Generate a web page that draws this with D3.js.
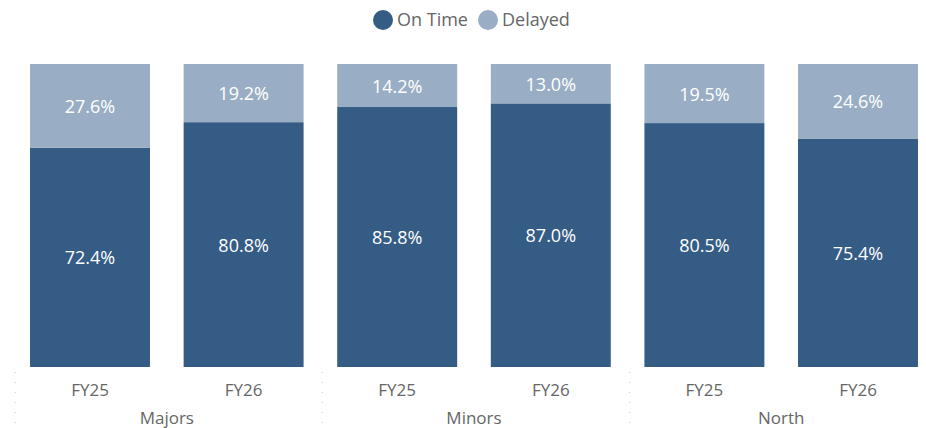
<!DOCTYPE html>
<html>
<head>
<meta charset="utf-8">
<script src="https://cdn.jsdelivr.net/npm/d3@7"></script>
<style>
  html, body { margin: 0; padding: 0; background: #fff; }
  svg text { font-family: "Open Sans", "Noto Sans", sans-serif; }
</style>
</head>
<body>
<svg id="chart" width="926" height="428"></svg>
<script>
// Categories: region groups and fiscal years within each
const groups = ["Majors", "Minors", "North"];
const years = ["FY25", "FY26"];
// Percentage of deliveries per group/year (order: Majors FY25, FY26, Minors FY25, FY26, North FY25, FY26)
const onTime = [72.4, 80.8, 85.8, 87.0, 80.5, 75.4];
const delayed = [27.6, 19.2, 14.2, 13.0, 19.5, 24.6];
const seriesNames = ["On Time", "Delayed"];
const seriesColors = ["#345c85", "#99aec4"];

(function () {
  const svg = d3.select("#chart");
  const plotLeft = 13.2, plotRight = 934.8, plotTop = 64, plotBottom = 367;

  const rows = [];
  groups.forEach((g, gi) => years.forEach((y, yi) => {
    const i = gi * years.length + yi;
    rows.push({ key: g + "|" + y, group: g, year: y, "On Time": onTime[i], "Delayed": delayed[i] });
  }));

  const x = d3.scaleBand().domain(rows.map(d => d.key)).range([plotLeft, plotRight])
    .paddingInner(0.219).paddingOuter(0.1095);
  const yScale = d3.scaleLinear().domain([0, 100]).range([plotBottom, plotTop]);
  const color = d3.scaleOrdinal().domain(seriesNames).range(seriesColors);

  const stacked = d3.stack().keys(seriesNames)(rows);

  const layers = svg.append("g").selectAll("g").data(stacked).join("g").attr("fill", s => color(s.key));
  layers.selectAll("rect").data(s => s).join("rect")
    .attr("x", d => x(d.data.key))
    .attr("width", x.bandwidth())
    .attr("y", d => yScale(d[1]))
    .attr("height", d => yScale(d[0]) - yScale(d[1]));

  // Value labels centred in each segment
  const labels = svg.append("g");
  stacked.forEach(s => {
    s.forEach(d => {
      labels.append("text")
        .attr("x", x(d.data.key) + x.bandwidth() / 2)
        .attr("y", (yScale(d[0]) + yScale(d[1])) / 2)
        .attr("text-anchor", "middle")
        .attr("dominant-baseline", "central")
        .attr("fill", "#ffffff")
        .attr("font-size", 18)
        .text(d.data[s.key].toFixed(1) + "%");
    });
  });

  // Year labels under bars
  const axis = svg.append("g");
  rows.forEach(d => {
    axis.append("text")
      .attr("x", x(d.key) + x.bandwidth() / 2)
      .attr("y", 389)
      .attr("text-anchor", "middle")
      .attr("dominant-baseline", "central")
      .attr("fill", "#666666")
      .attr("font-size", 17)
      .text(d.year);
  });

  // Group labels and dotted separators
  const step = x.step();
  groups.forEach((g, gi) => {
    const x0 = plotLeft + gi * years.length * step;
    const x1 = x0 + years.length * step;
    axis.append("text")
      .attr("x", (x0 + x1) / 2)
      .attr("y", 417)
      .attr("text-anchor", "middle")
      .attr("dominant-baseline", "central")
      .attr("fill", "#666666")
      .attr("font-size", 17)
      .text(g);
    axis.append("line")
      .attr("x1", x0 + 2).attr("x2", x0 + 2)
      .attr("y1", 372).attr("y2", 424)
      .attr("stroke", "#c8c8c8")
      .attr("stroke-width", 1)
      .attr("stroke-dasharray", "1 9");
  });

  // Legend
  const legendItems = [
    { name: "On Time", cx: 383, tx: 397 },
    { name: "Delayed", cx: 488, tx: 502 }
  ];
  const legend = svg.append("g");
  legendItems.forEach(it => {
    legend.append("circle").attr("cx", it.cx).attr("cy", 20).attr("r", 10).attr("fill", color(it.name));
    legend.append("text")
      .attr("x", it.tx)
      .attr("y", 19)
      .attr("dominant-baseline", "central")
      .attr("fill", "#666666")
      .attr("font-size", 18)
      .text(it.name);
  });
})();
</script>
</body>
</html>
